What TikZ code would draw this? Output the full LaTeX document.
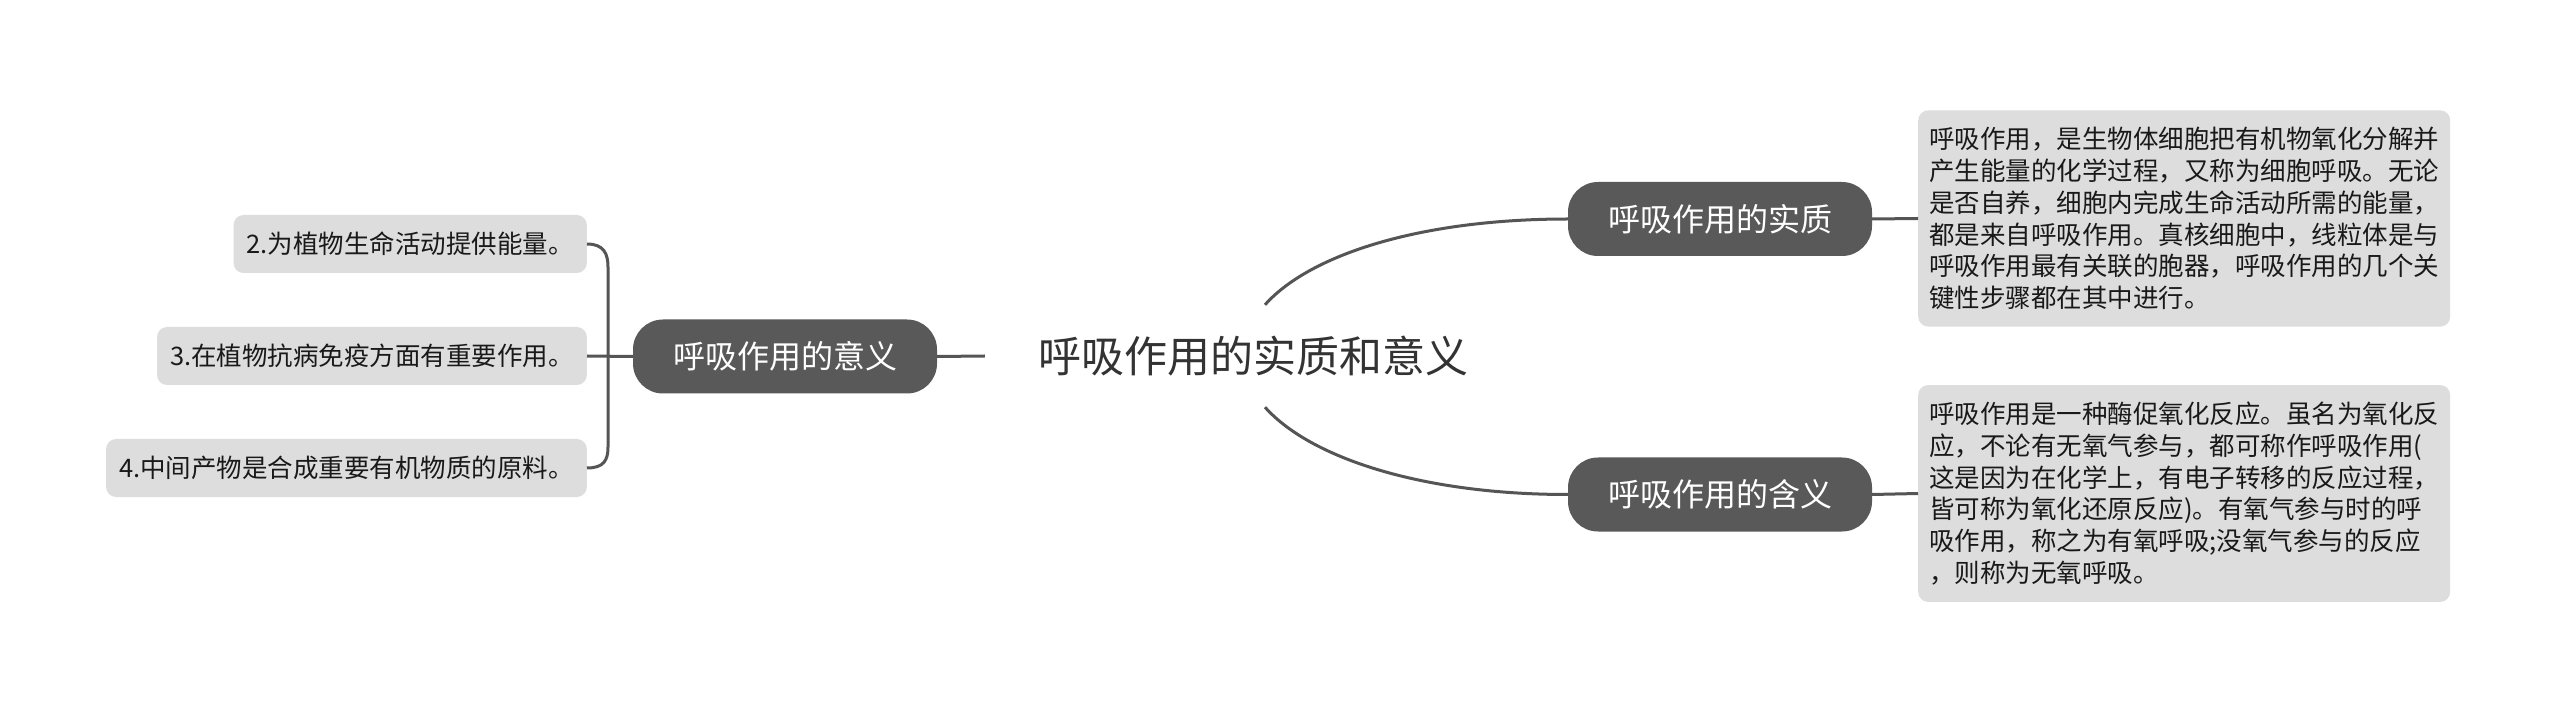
\documentclass[tikz,border=0pt]{standalone}
\usepackage{fontspec}
\setmainfont{Noto Sans CJK SC}
\usepackage{tikz}
\usetikzlibrary{calc}
\definecolor{topicgray}{HTML}{595959}
\definecolor{linegray}{HTML}{555555}
\definecolor{leafgray}{HTML}{DDDDDD}
\definecolor{roottext}{HTML}{333333}
\newcommand{\figunit}{1pt}

\begin{document}
\begin{tikzpicture}[x=\figunit,y=\figunit,
	topic/.style={fill=topicgray, text=white, rounded corners=30pt, minimum width=304pt, minimum height=74pt, inner sep=0pt, font=\fontsize{32pt}{38pt}\selectfont},
	leaf/.style={fill=leafgray, text=black!90, rounded corners=10pt, anchor=east, minimum height=58pt, inner xsep=13pt, inner ysep=0pt, font=\fontsize{25.5pt}{30pt}\selectfont},
	infobox/.style={fill=leafgray, text=black!90, rounded corners=10pt, anchor=west, align=left, inner xsep=11pt, inner ysep=17pt, font=\fontsize{25.5pt}{31.7pt}\selectfont},
	branch/.style={draw=linegray, line width=3pt}]
	\useasboundingbox[fill=white] (0,0) rectangle (2560,713);

	\node[text=roottext, minimum width=537pt, minimum height=102pt, inner sep=0pt, font=\fontsize{43pt}{50pt}\selectfont] (root) at (1253.5,357) {呼吸作用的实质和意义};

	\node[topic] (ess) at (1720,494) {呼吸作用的实质};
	\node[topic] (mean) at (1720,218.5) {呼吸作用的含义};
	\node[topic] (sig) at (785,356.5) {呼吸作用的意义};

	\node[infobox] (essText) at (1918,494.5) {呼吸作用，是生物体细胞把有机物氧化分解并\\产生能量的化学过程，又称为细胞呼吸。无论\\是否自养，细胞内完成生命活动所需的能量，\\都是来自呼吸作用。真核细胞中，线粒体是与\\呼吸作用最有关联的胞器，呼吸作用的几个关\\键性步骤都在其中进行。};
	\node[infobox] (meanText) at (1918,219.5) {呼吸作用是一种酶促氧化反应。虽名为氧化反\\应，不论有无氧气参与，都可称作呼吸作用(\\这是因为在化学上，有电子转移的反应过程，\\皆可称为氧化还原反应)。有氧气参与时的呼\\吸作用，称之为有氧呼吸;没氧气参与的反应\\，则称为无氧呼吸。};

	\node[leaf] (p2) at (587,469) {2.为植物生命活动提供能量。};
	\node[leaf] (p3) at (587,357) {3.在植物抗病免疫方面有重要作用。};
	\node[leaf] (p4) at (587,245) {4.中间产物是合成重要有机物质的原料。};

	% root to the right topics
	\draw[branch] ($(root.north)+(11.5,0)$) .. controls ($(root.north)+(56,50)$) and ($(ess.west)+(-148,0)$) .. (ess.west);
	\draw[branch] ($(root.south)+(11.5,0)$) .. controls ($(root.south)+(56,-50)$) and ($(mean.west)+(-148,0)$) .. (mean.west);
	\draw[branch] (ess.east) -- (essText.west);
	\draw[branch] (mean.east) -- (meanText.west);

	% left side
	\draw[branch] (sig.east) -- (root.west);
	\draw[branch] (sig.west) -- (p3.east);
	\draw[branch] (p2.east) .. controls ($(p2.east)+(17,0)$) and ($(p2.east)+(21,-10)$) .. ($(p2.east)+(21,-23)$)
		-- ($(p4.east)+(21,21)$) .. controls ($(p4.east)+(21,8)$) and ($(p4.east)+(17,0)$) .. (p4.east);

\end{tikzpicture}
\end{document}
